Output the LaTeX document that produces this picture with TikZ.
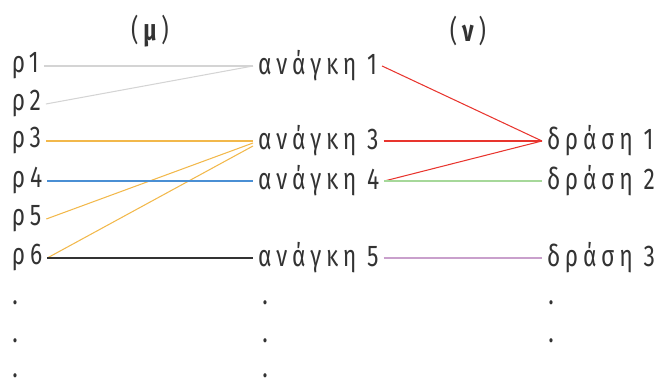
\documentclass[tikz,border=0pt]{standalone}
\usepackage{fontspec}
\setmainfont{Fira Sans}[FakeStretch=0.76, LetterSpace=16]
\usetikzlibrary{positioning}

\definecolor{lgray}{HTML}{D4D4D4}
\definecolor{orng}{HTML}{F2B84B}
\definecolor{blu}{HTML}{4A8FD4}
\definecolor{dark}{HTML}{333333}
\definecolor{rd}{HTML}{E8352E}
\definecolor{grn}{HTML}{A6D89A}
\definecolor{pnk}{HTML}{C9A0CC}

\begin{document}
\begin{tikzpicture}[x=1pt, y=-1pt,
    every node/.style={font=\fontsize{30}{34}\selectfont, inner sep=0pt, text=dark},
    lbl/.style={anchor=west, outer sep=5pt},
    dot/.style={anchor=base},
    ttl/.style={anchor=center},
    link/.style={line width=1.05pt},
]
\useasboundingbox (0,0) rectangle (654,385);

% titles
\node[ttl] (tm) at (150,31) {(\textbf{μ})};
\node[ttl] (tn) at (468,31) {(\textbf{ν})};

% left column
\node[lbl] (r1) at (7,66) {ρ1};
\node[lbl] (r2) at (7,104) {ρ2};
\node[lbl] (r3) at (7,141) {ρ3};
\node[lbl] (r4) at (7,181) {ρ4};
\node[lbl] (r5) at (7,219) {ρ5};
\node[lbl] (r6) at (7,258) {ρ6};
\node[dot] (rd1) at (15,304) {.};
\node[dot] (rd2) at (15,342) {.};
\node[dot] (rd3) at (15,377) {.};

% middle column
\node[lbl] (a1) at (253,66) {ανάγκη 1};
\node[lbl] (a3) at (253,141) {ανάγκη 3};
\node[lbl] (a4) at (253,181) {ανάγκη 4};
\node[lbl] (a5) at (253,258) {ανάγκη 5};
\node[dot] (ad1) at (265,304) {.};
\node[dot] (ad2) at (265,342) {.};
\node[dot] (ad3) at (265,377) {.};

% right column
\node[lbl] (d1) at (542,141) {δράση 1};
\node[lbl] (d2) at (542,181) {δράση 2};
\node[lbl] (d3) at (542,258) {δράση 3};
\node[dot] (dd1) at (551,304) {.};
\node[dot] (dd2) at (551,342) {.};

% (mu) links
\draw[link, lgray] (r1.east) -- (a1.west);
\draw[link, lgray] (r2.east) -- (a1.west);
\draw[link, orng] (r3.east) -- (a3.west);
\draw[link, orng] (r5.east) -- ([yshift=-2pt]a3.west);
\draw[link, orng] (r6.east) -- ([yshift=-5pt]a3.west);
\draw[link, blu] (r4.east) -- (a4.west);
\draw[link, dark] (r6.east) -- (a5.west);

% (nu) links
\draw[link, rd] (a1.east) -- (d1.west);
\draw[link, rd] (a3.east) -- (d1.west);
\draw[link, rd] (a4.east) -- (d1.west);
\draw[link, grn] (a4.east) -- (d2.west);
\draw[link, pnk] (a5.east) -- (d3.west);

\end{tikzpicture}
\end{document}
